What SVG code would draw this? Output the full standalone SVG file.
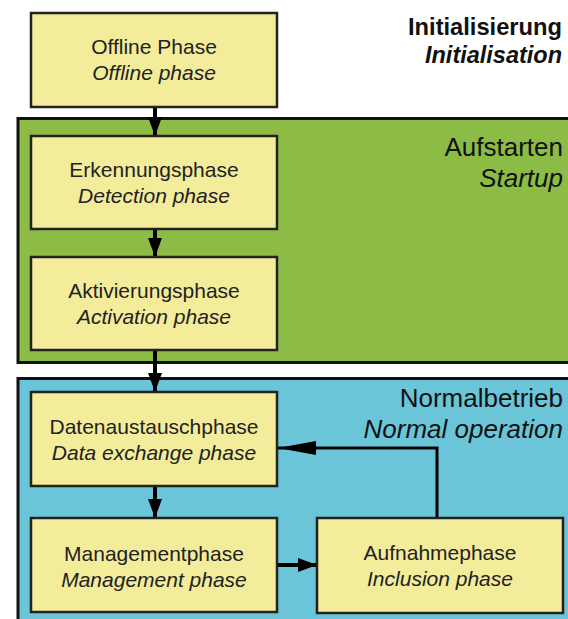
<svg xmlns="http://www.w3.org/2000/svg" width="568" height="619" viewBox="0 0 568 619">
<defs>
<style>
.region{stroke:#111;stroke-width:3}
.green{fill:#8DBC46}
.blue{fill:#6AC5D8}
.box{fill:#F3EC9A;stroke:#222;stroke-width:2.5}
.t{font-family:"Liberation Sans",Arial,sans-serif;font-size:21px;fill:#222;text-anchor:middle}
.i{font-style:italic}
.h{font-family:"Liberation Sans",Arial,sans-serif;font-size:26px;fill:#111;text-anchor:end}
.hb{font-family:"Liberation Sans",Arial,sans-serif;font-size:24px;font-weight:bold;fill:#111;text-anchor:end}
.conn{stroke:#000;stroke-width:4;fill:none}
.thin{stroke:#000;stroke-width:3;fill:none}
</style>
<marker id="ah" markerUnits="userSpaceOnUse" markerWidth="20" markerHeight="16" refX="19" refY="7" orient="auto" viewBox="0 0 20 14">
<path d="M0,0 L19,7 L0,14 z" fill="#000"/>
</marker>
<marker id="ahl" markerUnits="userSpaceOnUse" markerWidth="40" markerHeight="16" refX="38" refY="7" orient="auto" viewBox="0 0 40 14">
<path d="M0,0 L38,7 L0,14 z" fill="#000"/>
</marker>
</defs>
<rect width="568" height="619" fill="#fff"/>
<g id="region-startup">
<rect class="region green" x="18" y="118.5" width="560" height="244"/>
<text class="h" x="563" y="156">Aufstarten</text>
<text class="h i" x="563" y="187">Startup</text>
</g>
<g id="region-normal">
<rect class="region blue" x="18" y="378.5" width="560" height="250"/>
<text class="h" x="563" y="407">Normalbetrieb</text>
<text class="h i" x="563" y="438">Normal operation</text>
</g>
<g id="region-init">
<text class="hb" x="562" y="35" textLength="154" lengthAdjust="spacingAndGlyphs">Initialisierung</text>
<text class="hb i" x="562" y="63" textLength="137" lengthAdjust="spacingAndGlyphs">Initialisation</text>
</g>
<g id="connectors">
<line class="conn" x1="155" y1="107" x2="155" y2="136" marker-end="url(#ah)"/>
<line class="conn" x1="155" y1="229" x2="155" y2="257" marker-end="url(#ah)"/>
<line class="conn" x1="155" y1="350" x2="155" y2="392" marker-end="url(#ah)"/>
<line class="conn" x1="155" y1="486" x2="155" y2="518" marker-end="url(#ah)"/>
<line class="conn" x1="277" y1="565" x2="317" y2="565" marker-end="url(#ah)"/>
<polyline class="thin" points="437,518 437,448 278,448" marker-end="url(#ahl)"/>
</g>
<g id="node-offline">
<rect class="box" x="31" y="13" width="246" height="94"/>
<text class="t" x="154" y="54">Offline Phase</text>
<text class="t i" x="154" y="80">Offline phase</text>
</g>
<g id="node-detection">
<rect class="box" x="31" y="136" width="246" height="93"/>
<text class="t" x="154" y="177">Erkennungsphase</text>
<text class="t i" x="154" y="203">Detection phase</text>
</g>
<g id="node-activation">
<rect class="box" x="31" y="257" width="246" height="93"/>
<text class="t" x="154" y="298">Aktivierungsphase</text>
<text class="t i" x="154" y="324">Activation phase</text>
</g>
<g id="node-data">
<rect class="box" x="31" y="392" width="246" height="94"/>
<text class="t" x="154" y="434">Datenaustauschphase</text>
<text class="t i" x="154" y="460">Data exchange phase</text>
</g>
<g id="node-management">
<rect class="box" x="31" y="518" width="246" height="94"/>
<text class="t" x="154" y="561">Managementphase</text>
<text class="t i" x="154" y="587">Management phase</text>
</g>
<g id="node-inclusion">
<rect class="box" x="317" y="518" width="246" height="95"/>
<text class="t" x="440" y="560">Aufnahmephase</text>
<text class="t i" x="440" y="586">Inclusion phase</text>
</g>
</svg>
